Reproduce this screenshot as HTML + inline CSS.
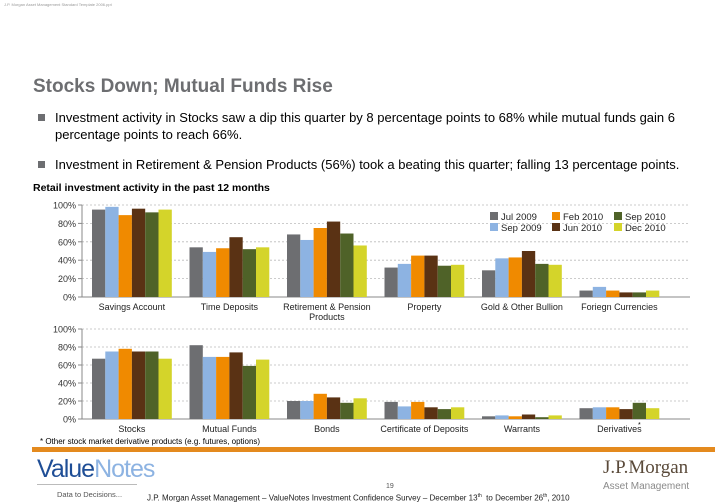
<!DOCTYPE html>
<html><head><meta charset="utf-8"><style>
body{margin:0;width:728px;height:504px;background:#fff;position:relative;overflow:hidden;font-family:"Liberation Sans",sans-serif;}
.a{position:absolute;}
</style></head><body>
<div class="a" style="left:4px;top:2px;font-size:4px;color:#999">J.P. Morgan Asset Management Standard Template 2006.ppt</div>
<div class="a" style="left:33px;top:76px;font-size:19px;font-weight:bold;color:#6d6e71">Stocks Down; Mutual Funds Rise</div>
<div class="a" style="left:38px;top:109px;width:668px;font-size:13px;line-height:17px;color:#000"><span style="position:absolute;left:0;top:5px;width:7px;height:7px;background:#6d6e71"></span><div style="margin-left:17px">Investment activity in Stocks saw a dip this quarter by 8 percentage points to 68% while mutual funds gain 6 percentage points to reach 66%.</div></div>
<div class="a" style="left:38px;top:156px;width:680px;font-size:13px;line-height:17px;color:#000"><span style="position:absolute;left:0;top:5px;width:7px;height:7px;background:#6d6e71"></span><div style="margin-left:17px">Investment in Retirement &amp; Pension Products (56%) took a beating this quarter; falling 13 percentage points.</div></div>
<div class="a" style="left:33px;top:182px;font-size:10.5px;font-weight:bold">Retail investment activity in the past 12 months</div>
<svg class="a" style="left:0;top:0" width="728" height="504" id="svg"></svg>
<div class="a" style="left:40px;top:437px;font-size:8px">* Other stock market derivative products (e.g. futures, options)</div>
<div class="a" style="left:32px;top:447px;width:683px;height:5px;background:#e48a1e"></div>
<div class="a" style="left:37px;top:455px;font-size:25px;letter-spacing:-1px;color:#1f4e96">Value<span style="color:#8db3e2">Notes</span></div>
<div class="a" style="left:37px;top:484px;width:100px;height:1px;background:#bbb"></div>
<div class="a" style="left:57px;top:490px;font-size:7.5px;color:#555">Data to Decisions...</div>
<div class="a" style="left:386px;top:483px;font-size:7px;color:#555">19</div>
<div class="a" style="left:147px;top:493px;width:460px;white-space:nowrap;font-size:8px;color:#222">J.P. Morgan Asset Management – ValueNotes Investment Confidence Survey – December 13<sup style="font-size:5px">th</sup>&nbsp; to December 26<sup style="font-size:5px">th</sup>, 2010</div>
<div class="a" style="left:603px;top:457px;font-family:'Liberation Serif',serif;font-size:19px;color:#5a4a3a">J.P.Morgan</div>
<div class="a" style="left:603px;top:481px;font-size:10px;color:#8a8a8a">Asset Management</div>
<script>
const seriesNames=["Jul 2009","Sep 2009","Feb 2010","Jun 2010","Sep 2010","Dec 2010"];
const colors=["#6d6e71","#8db3e2","#f08a00","#5a3214","#4f6228","#d4d42a"];
const topCats=["Savings Account","Time Deposits","Retirement & Pension|Products","Property","Gold & Other Bullion","Foriegn Currencies"];
const topVals=[[95,98,89,96,92,95],[54,49,53,65,52,54],[68,62,75,82,69,56],[32,36,45,45,34,35],[29,42,43,50,36,35],[7,11,7,5,5,7]];
const botCats=["Stocks","Mutual Funds","Bonds","Certificate of Deposits","Warrants","Derivatives"];
const botVals=[[67,75,78,75,75,67],[82,69,69,74,59,66],[20,20,28,24,18,23],[19,14,19,13,11,13],[3,4,3,5,2,4],[12,13,13,11,18,12]];
const ticks=[0,20,40,60,80,100];
const svg=document.getElementById('svg');const NS="http://www.w3.org/2000/svg";
function mk(t,a,p){const e=document.createElementNS(NS,t);for(const k in a)e.setAttribute(k,a[k]);(p||svg).appendChild(e);return e;}
function chart(cats,vals,y0,y100,name){
  const y=v=>y0-(y0-y100)*v/100, gx=i=>92+i*97.5, bw=13.3;
  ticks.forEach(t=>{
    if(t>0){const l=mk('line',{x1:82,x2:690,y1:y(t),y2:y(t),stroke:'#bbb','stroke-dasharray':'2,2','stroke-width':0.8});
    
    }
    const tx=mk('text',{x:76,y:y(t)+3.5,'font-size':9,'text-anchor':'end',fill:'#333','font-family':'Liberation Sans'});tx.textContent=t+'%';
    
    
    mk('line',{x1:78,x2:82,y1:y(t),y2:y(t),stroke:'#888'});
  });
  mk('line',{x1:82,x2:82,y1:y100,y2:y0,stroke:'#888'});
  mk('line',{x1:82,x2:690,y1:y0,y2:y0,stroke:'#888'});
  cats.forEach((c,i)=>{
    vals[i].forEach((v,j)=>{
      const r=mk('rect',{x:gx(i)+j*bw,y:y(v),width:bw,height:y0-y(v),fill:colors[j]});
      
      
    });
    c.split('|').forEach((ln,k)=>{
      const t=mk('text',{x:gx(i)+bw*3,y:y0+13+k*10,'font-size':9,'text-anchor':'middle',fill:'#222','font-family':'Liberation Sans'});t.textContent=ln;
      
      
    });
  });
}
chart(topCats,topVals,297,205,'top-chart');
chart(botCats,botVals,419,329,'bottom-chart');
const st=mk('text',{x:638,y:427,'font-size':7});st.textContent='*';


seriesNames.forEach((s,j)=>{
  const col=Math.floor(j/2),row=j%2,x=490+col*62,yy=212+row*11;
  const r=mk('rect',{x:x,y:yy,width:8,height:8,fill:colors[j]});
  
  
  const t=mk('text',{x:x+11,y:yy+8,'font-size':9.5,fill:'#222','font-family':'Liberation Sans'});t.textContent=s;
  
  
});
</script>
</body></html>
